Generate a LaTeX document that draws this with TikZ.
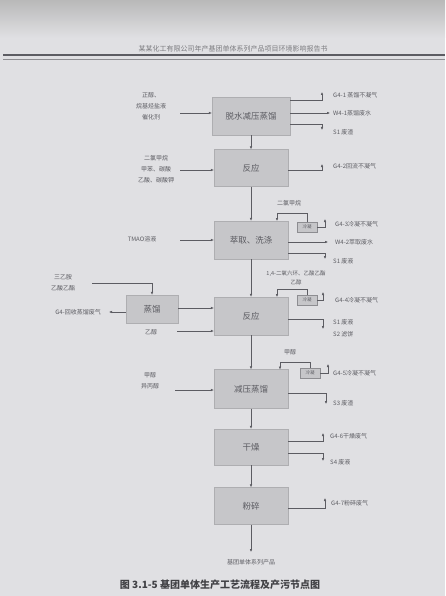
\documentclass[tikz,border=0pt]{standalone}
\usepackage{fontspec}
\setmainfont{Noto Sans CJK SC}
\usetikzlibrary{arrows.meta}
\definecolor{bg}{RGB}{224,224,227}
\definecolor{boxc}{RGB}{198,198,201}
\definecolor{ink}{RGB}{92,92,98}
\begin{document}
\begin{tikzpicture}[x=1pt,y=-1pt,
 proc/.style={rectangle,fill=boxc,draw=boxc!88!black,line width=.3pt,minimum width=74pt,minimum height=37pt,inner sep=0pt,font=\fontsize{8.5}{10}\selectfont,text=ink},
 cond/.style={rectangle,fill=boxc,draw=ink!70,line width=.3pt,minimum width=20pt,minimum height=10pt,inner sep=0pt,font=\fontsize{4.5}{5}\selectfont,text=ink},
 lbl/.style={font=\fontsize{6}{7}\selectfont,text=ink,inner sep=0pt,align=center},
 lbl2/.style={lbl,font=\fontsize{6}{11}\selectfont},
 rl/.style={lbl,anchor=west},
 arr/.style={draw=ink,line width=.5pt,-{Latex[length=3pt,width=2.6pt]}}]
\useasboundingbox (0,0) rectangle (445,596);
\fill[bg] (0,0) rectangle (445,596);
\shade[top color=gray!55,bottom color=bg] (0,0) rectangle (445,38);
% header
\node[font=\fontsize{7}{8}\selectfont,text=ink!80] (hdr) at (233,49) {某某化工有限公司年产基团单体系列产品项目环境影响报告书};
\draw[ink,line width=1.6pt] (3,55) -- (445,55);
\draw[ink!70,line width=.5pt] (3,59) -- (445,59);
% main boxes
\node[proc,minimum width=78pt,minimum height=38pt] (b1) at (251,116) {脱水减压蒸馏};
\node[proc] (b2) at (251,168) {反应};
\node[proc,minimum height=38pt] (b3) at (251,240) {萃取、洗涤};
\node[proc,minimum height=38pt] (b4) at (251,316) {反应};
\node[proc,minimum width=52pt,minimum height=28pt] (bl) at (152,309) {蒸馏};
\node[proc,minimum height=39pt] (b5) at (251,389) {减压蒸馏};
\node[proc,minimum height=36pt] (b6) at (251,447) {干燥};
\node[proc] (b7) at (251,506) {粉碎};
\coordinate (pe) at (251,552);
\node[lbl] (prod) at (251,562) {基团单体系列产品};
\draw[arr] (b1) -- (b2);
\draw[arr] (b2) -- (b3);
\draw[arr] (b3) -- (b4);
\draw[arr] (b4) -- (b5);
\draw[arr] (b5) -- (b6);
\draw[arr] (b6) -- (b7);
\draw[arr] (b7) -- (pe);
% b1
\node[lbl2] (in1) at (151,106) {正醇、\\烷基烃盐液\\催化剂};
\draw[arr] (180,113) -- ([yshift=3pt]b1.west);
\draw[arr] ([yshift=16pt]b1.east) -| (322,92);
\node[rl] (g41) at (333,95) {G4-1 蒸馏不凝气};
\draw[arr] ([yshift=3pt]b1.east) -- (330,113);
\node[rl] (w41) at (333,113) {W4-1蒸馏废水};
\draw[arr] ([yshift=-8pt]b1.east) -| (322,130);
\node[rl] (s11) at (333,132) {S1 废渣};
% b2
\node[lbl2] (in2) at (156,169) {二氯甲烷\\甲苯、碳酸\\乙酸、碳酸钾};
\draw[arr] (180,170) -- ([yshift=-2pt]b2.west);
\draw[arr] ([yshift=-2pt]b2.east) -| (322,164);
\node[rl] (g42) at (333,166) {G4-2回流不凝气};
% b3
\node[lbl] (n3) at (289,203) {二氯甲烷};
\node[cond] (c3) at (307,227) {冷凝};
\draw[arr] (c3.north) |- (277,213) -- (277,221);
\draw[arr] (c3.east) -| (325,219);
\node[rl] (g43) at (335,224) {G4-3冷凝不凝气};
\draw[arr] ([yshift=-2pt]b3.east) -- (328,242);
\node[rl] (w42) at (335,242) {W4-2萃取废水};
\draw[arr] ([yshift=-13pt]b3.east) -| (325,259);
\node[rl] (s12) at (333,261) {S1 废液};
\node[lbl] (in3) at (142,239) {TMAO溶液};
\draw[arr] (180,240) -- (b3.west);
% b4
\node[lbl2] (in4) at (63,283) {三乙胺\\乙酸乙酯};
\draw[arr] (92,283) -| (bl.north);
\node[lbl,anchor=east] (g4l) at (101,312) {G4-回收蒸馏废气};
\draw[arr] ([yshift=-3pt]bl.west) -- (109,312);
\draw[arr] ([yshift=1pt]bl.east) -- ([yshift=8pt]b4.west);
\node[lbl] (in5) at (151,332) {乙醇};
\draw[arr] (177,331) -- ([yshift=-15pt]b4.west);
\node[lbl,font=\fontsize{5.5}{9}\selectfont] (n4) at (296,278) {1,4-二氧六环、乙酸乙酯\\乙醇};
\node[cond] (c4) at (307,300) {冷凝};
\draw[arr] (c4.north) |- (277,289) -- (277,297);
\draw[arr] (c4.east) -| (323,292);
\node[rl] (g44) at (335,300) {G4-4冷凝不凝气};
\draw[arr] ([yshift=-3pt]b4.east) -| (323,329);
\node[rl] (s13) at (333,322) {S1 废液};
\node[rl] (s2) at (333,334) {S2 滤饼};
% b5
\node[lbl] (n5) at (290,352) {甲醇};
\node[cond] (c5) at (310,373) {冷凝};
\draw[arr] (c5.north) |- (280,362) -- (280,369.5);
\draw[arr] (c5.east) -| (328,364);
\node[rl] (g45) at (333,373) {G4-5冷凝不凝气};
\draw[arr] ([yshift=-4pt]b5.east) -| (326,404);
\node[rl] (s3) at (333,403) {S3 废渣};
\node[lbl2] (in6) at (150,381) {甲醇\\异丙醇};
\draw[arr] (175,390) -- ([yshift=-1pt]b5.west);
% b6
\draw[arr] ([yshift=6pt]b6.east) -| (323,433);
\node[rl] (g46) at (330,436) {G4-6干燥废气};
\draw[arr] ([yshift=-6pt]b6.east) -| (323,461);
\node[rl] (s4) at (330,462) {S4 废液};
% b7
\draw[arr] ([yshift=-2pt]b7.east) -| (325,498);
\node[rl] (g47) at (331,503) {G4-7粉碎废气};
% caption
\node[font=\bfseries\fontsize{10}{12}\selectfont,text=ink!70!black] (cap) at (220,585) {图 3.1-5 基团单体生产工艺流程及产污节点图};
\end{tikzpicture}
\end{document}
